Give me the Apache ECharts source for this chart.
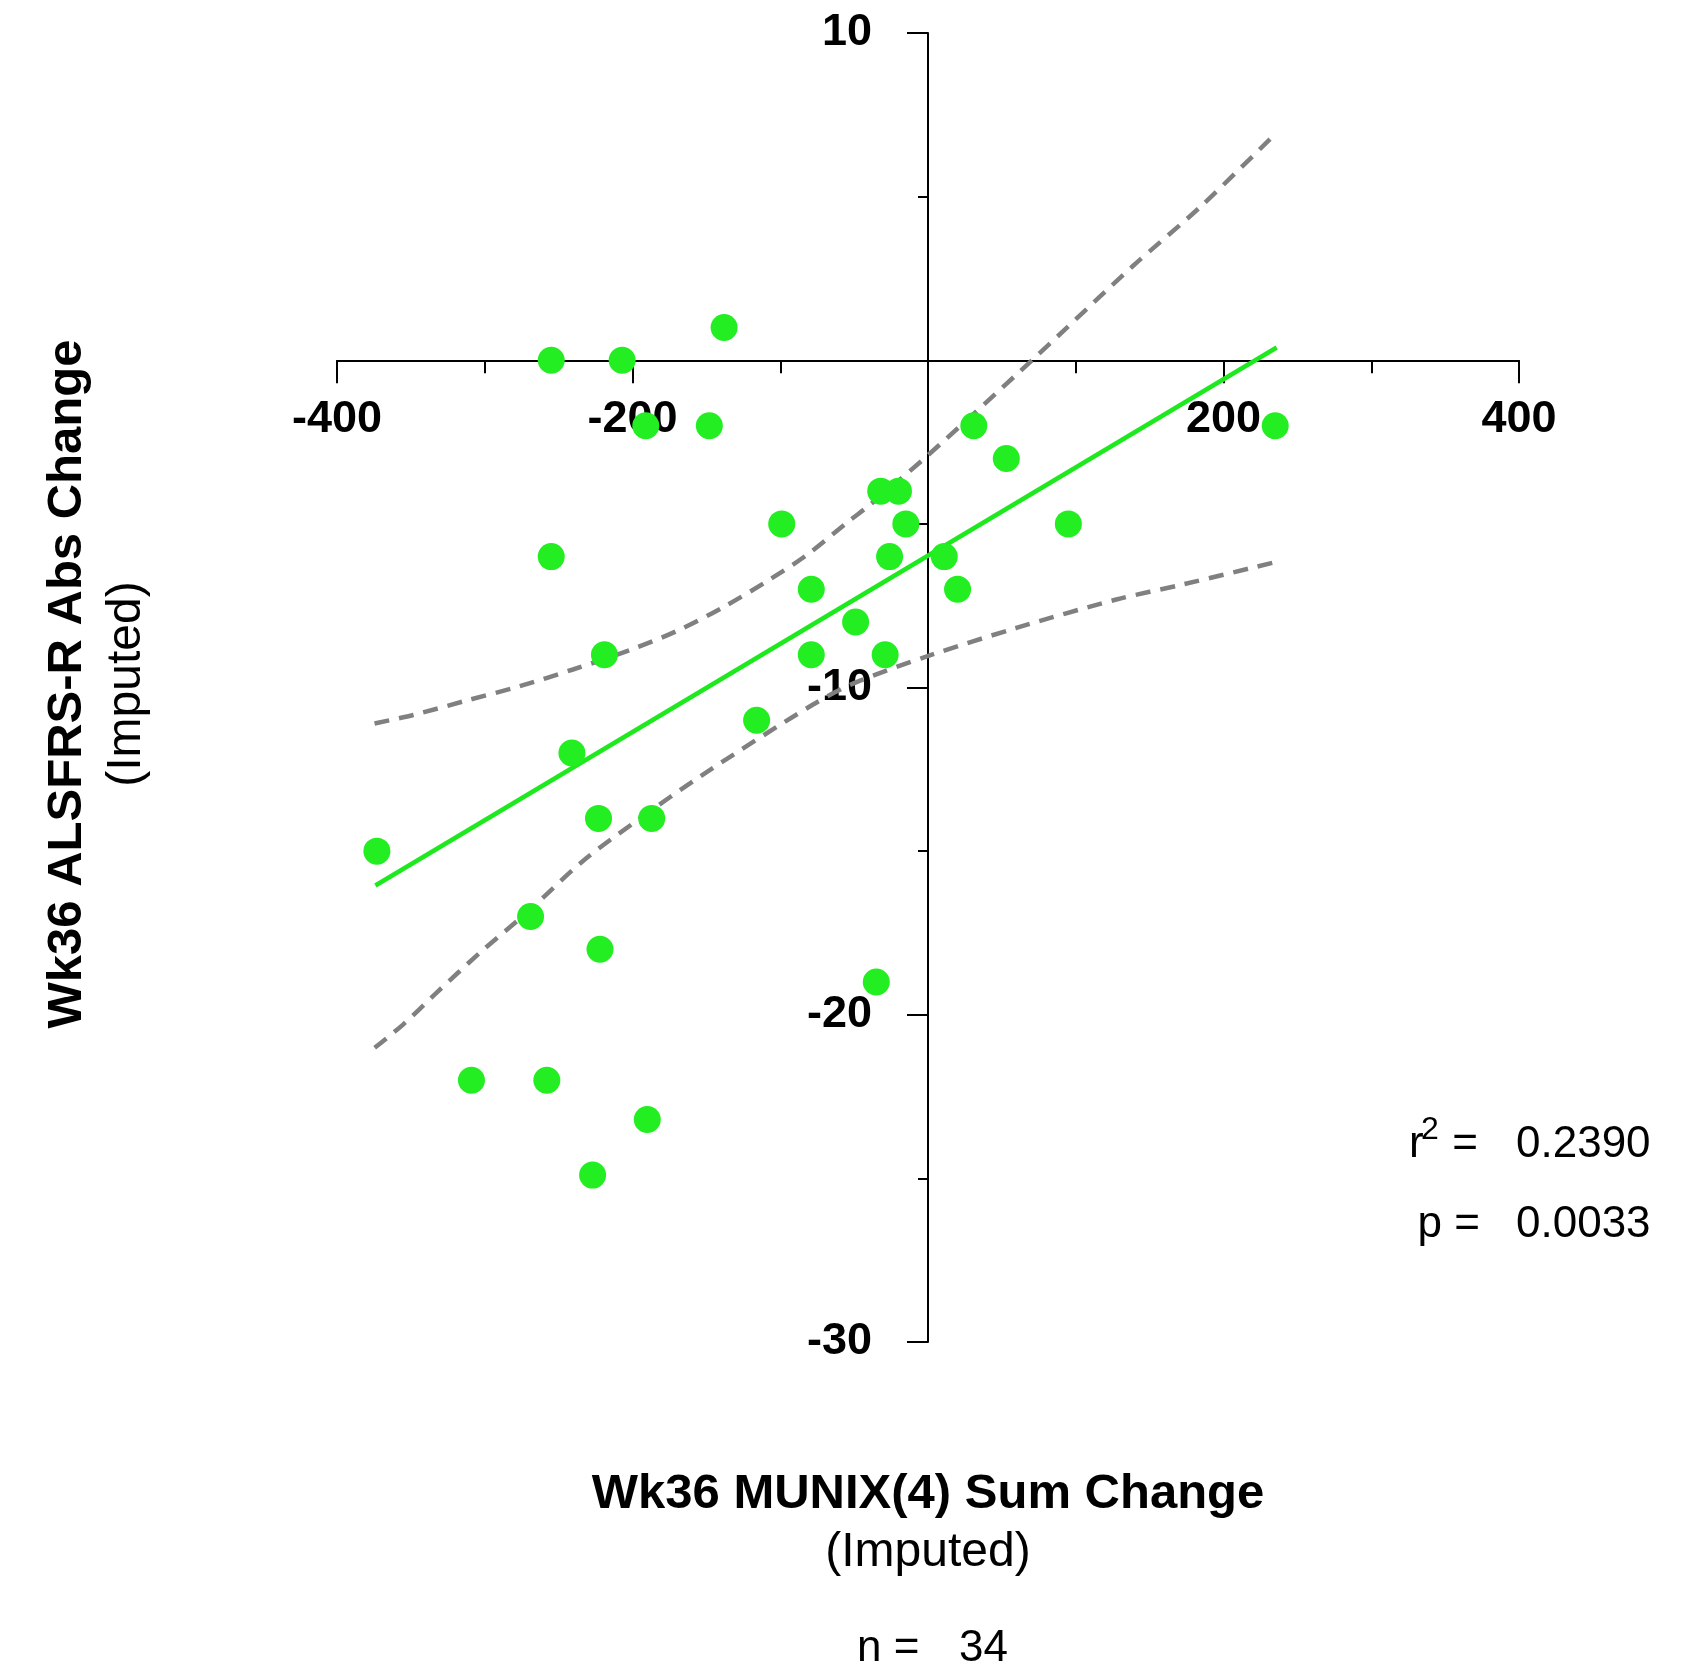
<!DOCTYPE html>
<html>
<head>
<meta charset="utf-8">
<style>
  html, body { margin: 0; padding: 0; background: #ffffff; }
  #chart { width: 1690px; height: 1674px; }
</style>
<script src="https://cdn.jsdelivr.net/npm/echarts@6/dist/echarts.min.js"></script>
</head>
<body>
<div id="chart"></div>
<script>
// ---- Data ----
const munixChange = [-138, -255, -207, -191, -148, 31, 235, 53, -32, -20, -99, -15, 95, -255, -26, 11, -79, 20, -49, -219, -79, -29, -116, -241, -223, -187, -373, -269, -222, -35, -309, -258, -190, -227];
const alsfrsChange = [1, 0, 0, -2, -2, -2, -2, -3, -4, -4, -5, -5, -5, -6, -6, -6, -7, -7, -8, -9, -9, -9, -11, -12, -14, -14, -15, -17, -18, -19, -22, -22, -23.2, -24.9];

// regression line end points
const fitX = [-374, 236];
const fitY = [-16.05, 0.39];

// confidence band curves
const upperX = [-374.6, -348.4, -312.4, -276.3, -240.3, -201.9, -170.3, -138.7, -107.1, -82, -53.1, -38.8, 0, 71.1, 138.7, 183.9, 234];
const upperY = [-11.1, -10.84, -10.4, -9.96, -9.45, -8.86, -8.28, -7.55, -6.7, -5.95, -4.9, -4.4, -2.9, 0.03, 2.88, 4.67, 6.87];
const lowerX = [-374.5, -355.3, -332.7, -303.4, -269.6, -233.5, -197.4, -152.3, -77.8, -49.6, 1.2, 59.8, 127.5, 172.6, 234];
const lowerY = [-21.01, -20.3, -19.33, -18.11, -16.8, -15.3, -14.08, -12.66, -10.52, -9.86, -9.02, -8.18, -7.31, -6.85, -6.18];

const xTicks = { min: -400, max: 400, interval: 200 };
const yTicks = { min: -30, max: 10, interval: 10 };

const xTitle = 'Wk36 MUNIX(4) Sum Change';
const yTitle = 'Wk36 ALSFRS-R Abs Change';
const subTitle = '(Imputed)';
const rSquared = '0.2390';
const pValue = '0.0033';
const nValue = '34';

// ---- Build chart ----
const FONT = 'Arial, "Liberation Sans", Helvetica, sans-serif';
const zip = (a, b) => a.map((v, i) => [v, b[i]]);

const GRID = { left: 337, right: 171, top: 33, bottom: 332 };
const W = 1690, H = 1674;
const plotW = W - GRID.left - GRID.right;
const plotH = H - GRID.top - GRID.bottom;
// place each axis where the other axis is zero (axes cross at the origin)
const xZeroPx = GRID.left + plotW * (0 - xTicks.min) / (xTicks.max - xTicks.min);
const yZeroPx = GRID.top + plotH * (yTicks.max - 0) / (yTicks.max - yTicks.min);

const chart = echarts.init(document.getElementById('chart'), null, { renderer: 'canvas' });

const axisCommon = {
  type: 'value',
  splitLine: { show: false },
  axisLine: { show: true, onZero: false, lineStyle: { color: '#000', width: 2 } },
  axisLabel: {
    color: '#000', fontFamily: FONT, fontWeight: 'bold', fontSize: 45,
    formatter: v => (v === 0 ? '' : String(v))
  }
};

const dashStyle = { color: '#808080', width: 4.5, type: [15, 10] };

chart.setOption({
  animation: false,
  backgroundColor: '#ffffff',
  grid: { left: GRID.left, right: GRID.right, top: GRID.top, bottom: GRID.bottom, containLabel: false },
  xAxis: Object.assign({}, axisCommon, {
    position: 'bottom',
    offset: -(H - GRID.bottom - yZeroPx),
    min: xTicks.min, max: xTicks.max, interval: xTicks.interval,
    axisTick: { show: true, length: 23, lineStyle: { color: '#000', width: 2 } },
    minorTick: { show: true, splitNumber: 2, length: 13, lineStyle: { color: '#000', width: 2 } },
    axisLabel: Object.assign({}, axisCommon.axisLabel, { margin: 37 })
  }),
  yAxis: Object.assign({}, axisCommon, {
    position: 'left',
    offset: -(xZeroPx - GRID.left),
    min: yTicks.min, max: yTicks.max, interval: yTicks.interval,
    axisTick: { show: true, length: 21, lineStyle: { color: '#000', width: 2 } },
    minorTick: { show: true, splitNumber: 2, length: 10, lineStyle: { color: '#000', width: 2 } },
    axisLabel: Object.assign({}, axisCommon.axisLabel, { margin: 56 })
  }),
  series: [
    {
      type: 'line', data: zip(upperX, upperY), smooth: 0.3, symbol: 'none', z: 2,
      lineStyle: dashStyle
    },
    {
      type: 'line', data: zip(lowerX, lowerY), smooth: 0.3, symbol: 'none', z: 2,
      lineStyle: dashStyle
    },
    {
      type: 'line', data: zip(fitX, fitY), symbol: 'none', z: 3,
      lineStyle: { color: '#1ee81e', width: 4.5 }
    },
    {
      type: 'scatter', data: zip(munixChange, alsfrsChange), symbol: 'circle', symbolSize: 27, z: 5,
      itemStyle: { color: '#22ee22', opacity: 1 }
    }
  ],
  graphic: [
    { type: 'text', x: 928, y: 1494, style: { text: xTitle, font: 'bold 49px ' + FONT, fill: '#000', align: 'center', verticalAlign: 'middle' } },
    { type: 'text', x: 928, y: 1553, style: { text: subTitle, font: '48px ' + FONT, fill: '#000', align: 'center', verticalAlign: 'middle' } },
    { type: 'text', x: 67, y: 684, rotation: Math.PI / 2, style: { text: yTitle, font: 'bold 49px ' + FONT, fill: '#000', align: 'center', verticalAlign: 'middle' } },
    { type: 'text', x: 127, y: 684, rotation: Math.PI / 2, style: { text: subTitle, font: '48px ' + FONT, fill: '#000', align: 'center', verticalAlign: 'middle' } },
    // r^2
    { type: 'text', x: 1409, y: 1145, style: { text: 'r', font: '44px ' + FONT, fill: '#000', align: 'left', verticalAlign: 'middle' } },
    { type: 'text', x: 1421, y: 1130, style: { text: '2', font: '32px ' + FONT, fill: '#000', align: 'left', verticalAlign: 'middle' } },
    { type: 'text', x: 1478, y: 1145, style: { text: '=', font: '44px ' + FONT, fill: '#000', align: 'right', verticalAlign: 'middle' } },
    { type: 'text', x: 1516, y: 1145, style: { text: rSquared, font: '44px ' + FONT, fill: '#000', align: 'left', verticalAlign: 'middle' } },
    // p
    { type: 'text', x: 1480, y: 1225, style: { text: 'p =', font: '44px ' + FONT, fill: '#000', align: 'right', verticalAlign: 'middle' } },
    { type: 'text', x: 1516, y: 1225, style: { text: pValue, font: '44px ' + FONT, fill: '#000', align: 'left', verticalAlign: 'middle' } },
    // n
    { type: 'text', x: 857, y: 1649, style: { text: 'n =', font: '44px ' + FONT, fill: '#000', align: 'left', verticalAlign: 'middle' } },
    { type: 'text', x: 959, y: 1649, style: { text: nValue, font: '44px ' + FONT, fill: '#000', align: 'left', verticalAlign: 'middle' } }
  ]
});
</script>
</body>
</html>
